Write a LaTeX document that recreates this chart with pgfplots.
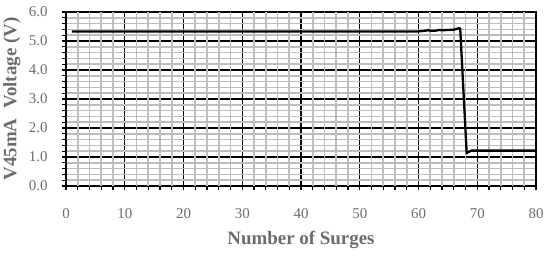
\documentclass[border=0pt]{standalone}
\usepackage{pgfplots}
\pgfplotsset{compat=1.18}
\usepackage{fontspec}
\setmainfont{Liberation Serif}
\definecolor{lbl}{RGB}{108,108,108}
\definecolor{mgrid}{RGB}{190,190,190}
\begin{document}
\begin{tikzpicture}
\begin{axis}[
  scale only axis,
  width=470bp, height=174bp,
  xmin=0, xmax=80, ymin=0, ymax=6,
  xtick={0,10,...,80},
  ytick={0,1,...,6},
  minor y tick num=4,
  extra x ticks={2,4,6,8,12,14,16,18,22,24,26,28,32,34,36,38,42,44,46,48,52,54,56,58,62,64,66,68,72,74,76,78},
  extra x tick labels={},
  extra x tick style={grid=major, major grid style={mgrid, line width=1.6pt}},
  grid=both,
  major grid style={black, line width=1.1pt},
  minor grid style={mgrid, line width=1.6pt},
  axis line style={black, line width=1.1pt},
  tick align=outside,
  major tick length=4bp,
  minor tick length=4bp,
  tick style={black, line width=1.2pt},
  xtick pos=bottom, ytick pos=left,
  tick label style={lbl, font=\fontsize{15}{17}\selectfont},
  /pgf/number format/assume math mode=true,
  yticklabel style={/pgf/number format/fixed, /pgf/number format/fixed zerofill, /pgf/number format/precision=1, xshift=-11bp},
  xticklabel style={yshift=-15bp},
  xlabel={\textbf{Number of Surges}},
  ylabel={\textbf{V45mA\ \ Voltage (V)}},
  label style={lbl, font=\fontsize{19}{21}\selectfont},
  xlabel style={at={(rel axis cs:0.5,0)}, anchor=center, yshift=-54bp},
  ylabel style={at={(rel axis cs:0,0.5)}, anchor=center, rotate=0, yshift=54bp},
  clip=false,
]
\addplot[black, line width=2.3pt] coordinates {
(1,5.33) (10,5.33) (20,5.33) (30,5.33) (40,5.33) (50,5.33) (60,5.33)
(61,5.35) (61.6,5.37) (62.3,5.35) (62.8,5.35) (63.5,5.38) (64,5.37) (65,5.38) (66,5.39) (66.9,5.44) (67.1,5.42)
(68.2,1.14) (69,1.22) (70,1.22) (75,1.22) (80,1.22)
};
\path (rel axis cs:0,0) ++(-66bp,-70bp) coordinate (bl);
\path (rel axis cs:1,1) ++(14bp,12bp) coordinate (tr);
\end{axis}
\pgfresetboundingbox
\useasboundingbox (bl) rectangle (tr);
\end{tikzpicture}
\end{document}
